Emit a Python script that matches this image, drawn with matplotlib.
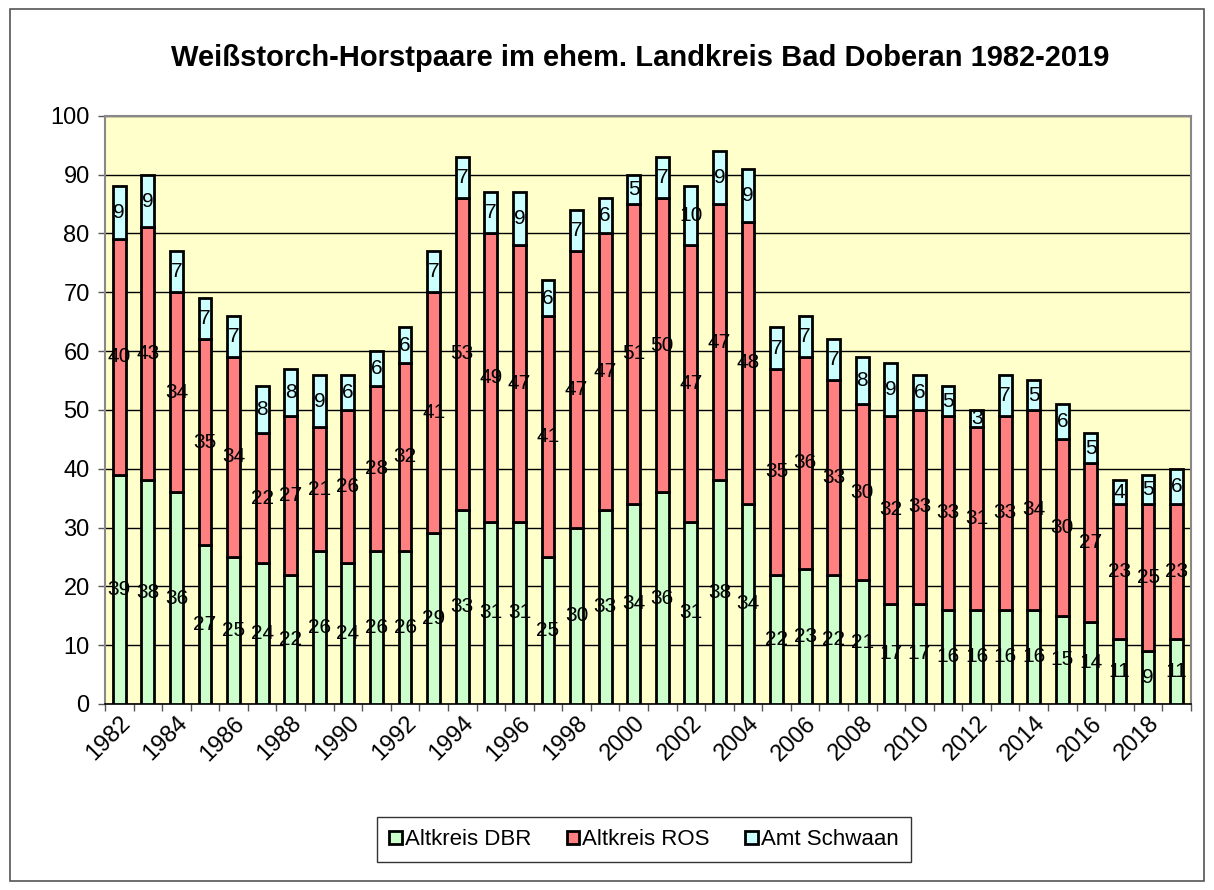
import matplotlib.pyplot as plt
import numpy as np
from matplotlib.patches import Rectangle

plt.rcParams['font.family'] = ['Liberation Sans', 'DejaVu Sans']

years = list(range(1982, 2020))
dbr = [39, 38, 36, 27, 25, 24, 22, 26, 24, 26, 26, 29, 33, 31, 31, 25, 30, 33, 34, 36,
       31, 38, 34, 22, 23, 22, 21, 17, 17, 16, 16, 16, 16, 15, 14, 11, 9, 11]
ros = [40, 43, 34, 35, 34, 22, 27, 21, 26, 28, 32, 41, 53, 49, 47, 41, 47, 47, 51, 50,
       47, 47, 48, 35, 36, 33, 30, 32, 33, 33, 31, 33, 34, 30, 27, 23, 25, 23]
schwaan = [9, 9, 7, 7, 7, 8, 8, 9, 6, 6, 6, 7, 7, 7, 9, 6, 7, 6, 5, 7,
           10, 9, 9, 7, 7, 7, 8, 9, 6, 5, 3, 7, 5, 6, 5, 4, 5, 6]
series_names = ['Altkreis DBR', 'Altkreis ROS', 'Amt Schwaan']
colors = ['#CCFFCC', '#FF8080', '#CCFFFF']

fig = plt.figure(figsize=(12.14, 8.90), dpi=100)
fig.patches.append(Rectangle((0.008, 0.01), 0.984, 0.98, transform=fig.transFigure,
                             fill=False, edgecolor='#555555', linewidth=1.2))
ax = fig.add_axes([0.0865, 0.209, 0.8945, 0.661])
ax.set_facecolor('#FFFFCC')

x = np.arange(len(years))
bottom = np.zeros(len(years))
for vals, name, col in zip([dbr, ros, schwaan], series_names, colors):
    vals = np.array(vals)
    ax.bar(x, vals, width=0.45, bottom=bottom, color=col, edgecolor='black',
           linewidth=2, label=name, zorder=3)
    for xi, b, v in zip(x, bottom, vals):
        ax.text(xi, b + v / 2, str(v), ha='center', va='center', fontsize=15, zorder=4)
    bottom = bottom + vals

ax.set_xlim(-0.5, len(years) - 0.5)
ax.set_ylim(0, 100)
ax.set_yticks(range(0, 101, 10))
ax.yaxis.grid(True, color='black', linewidth=1, zorder=0)
ax.tick_params(axis='y', labelsize=17, length=5, width=1, color='#555555', pad=6)

ax.set_xticks(np.arange(-0.5, len(years), 1), minor=False)
ax.set_xticklabels([])
ax.set_xticks(x[::2], minor=True)
ax.set_xticklabels([str(y) for y in years[::2]], minor=True, rotation=45,
                   ha='right', va='top', rotation_mode='anchor', fontsize=17)
ax.tick_params(axis='x', which='major', length=5, width=1, color='#555555')
ax.tick_params(axis='x', which='minor', length=0, pad=6)

for s in ['left', 'top', 'right']:
    ax.spines[s].set_color('#888888')
    ax.spines[s].set_linewidth(1.5)
ax.spines['bottom'].set_color('black')
ax.spines['bottom'].set_linewidth(1.2)

fig.text(0.527, 0.935, 'Weißstorch-Horstpaare im ehem. Landkreis Bad Doberan 1982-2019',
         ha='center', va='center', fontsize=21, fontweight='bold')

leg = fig.legend(loc='center', bbox_to_anchor=(0.5305, 0.0565), ncol=3, fontsize=16,
                 frameon=True, fancybox=False, edgecolor='black', handlelength=0.55,
                 handleheight=0.55, handletextpad=0.15, columnspacing=1.6,
                 borderpad=0.55)
leg.get_frame().set_linewidth(1)

fig.savefig('out.png', dpi=100)
